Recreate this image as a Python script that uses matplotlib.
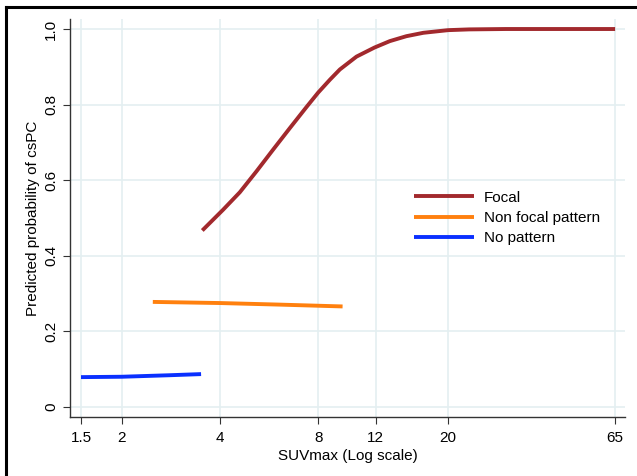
import matplotlib
matplotlib.use("Agg")
import matplotlib.pyplot as plt
from matplotlib.lines import Line2D

# data
focal_x = [3.53, 4.09, 4.60, 5.18, 5.82, 6.55, 7.37, 8.0, 8.69, 9.32, 10.48,
           11.9, 13.26, 14.9, 16.8, 20.0, 23.2, 30, 40, 65]
focal_y = [0.467, 0.522, 0.568, 0.624, 0.681, 0.738, 0.794, 0.832, 0.866, 0.893, 0.927,
           0.951, 0.968, 0.981, 0.990, 0.997, 0.999, 1.0, 1.0, 1.0]

nonfocal_x = [2.49, 4.0, 6.0, 9.5]
nonfocal_y = [0.278, 0.275, 0.271, 0.266]

nopattern_x = [1.5, 2.0, 2.8, 3.5]
nopattern_y = [0.079, 0.080, 0.084, 0.087]

xticks = [1.5, 2, 4, 8, 12, 20, 65]
xticklabels = ["1.5", "2", "4", "8", "12", "20", "65"]
yticks = [0, 0.2, 0.4, 0.6, 0.8, 1.0]
yticklabels = ["0", "0.2", "0.4", "0.6", "0.8", "1.0"]

plt.rcParams['font.family'] = ['Liberation Sans', 'DejaVu Sans']

fig = plt.figure(figsize=(6.37, 4.76), dpi=100)
ax = fig.add_axes([70/637, 59/476, 555/637, 398/476])

ax.plot(focal_x, focal_y, color='#A2292D', lw=2.8, label='Focal', solid_capstyle='butt')
ax.plot(nonfocal_x, nonfocal_y, color='#FF800E', lw=2.8, label='Non focal pattern', solid_capstyle='butt')
ax.plot(nopattern_x, nopattern_y, color='#0A30FF', lw=2.8, label='No pattern', solid_capstyle='butt')

ax.set_xscale('log')
ax.set_xlim(1.388, 69.7)
ax.set_ylim(-0.0265, 1.0265)
ax.set_xticks(xticks)
ax.set_xticklabels(xticklabels)
ax.minorticks_off()
ax.set_yticks(yticks)
ax.set_yticklabels(yticklabels, rotation=90, va='center')

ax.grid(True, color='#E4EFF1', lw=1.2)
ax.set_axisbelow(True)
for s in ['top', 'right']:
    ax.spines[s].set_visible(False)
for s in ['left', 'bottom']:
    ax.spines[s].set_color('#333333')
    ax.spines[s].set_linewidth(1.0)
ax.tick_params(colors='#333333', labelcolor='black', labelsize=11, length=5)
ax.tick_params(axis='x', pad=5)

ax.set_xlabel('SUVmax (Log scale)', fontsize=11, labelpad=3)
ax.set_ylabel('Predicted probability of csPC', fontsize=11, labelpad=3)

ax.legend(loc='center left', bbox_to_anchor=((414-70)/555, (417-218)/398),
          frameon=False, fontsize=11, handlelength=3.9, handletextpad=0.65,
          labelspacing=0.42, borderpad=0, borderaxespad=0)

# frame round the picture (top and left edges only visible)
fig.add_artist(Line2D([6.5/637, 1.0], [1-6.5/476, 1-6.5/476], transform=fig.transFigure, color='black', lw=2.2))
fig.add_artist(Line2D([6.5/637, 6.5/637], [0.0, 1-6.5/476], transform=fig.transFigure, color='black', lw=2.2))

fig.savefig('out.png', dpi=100)
